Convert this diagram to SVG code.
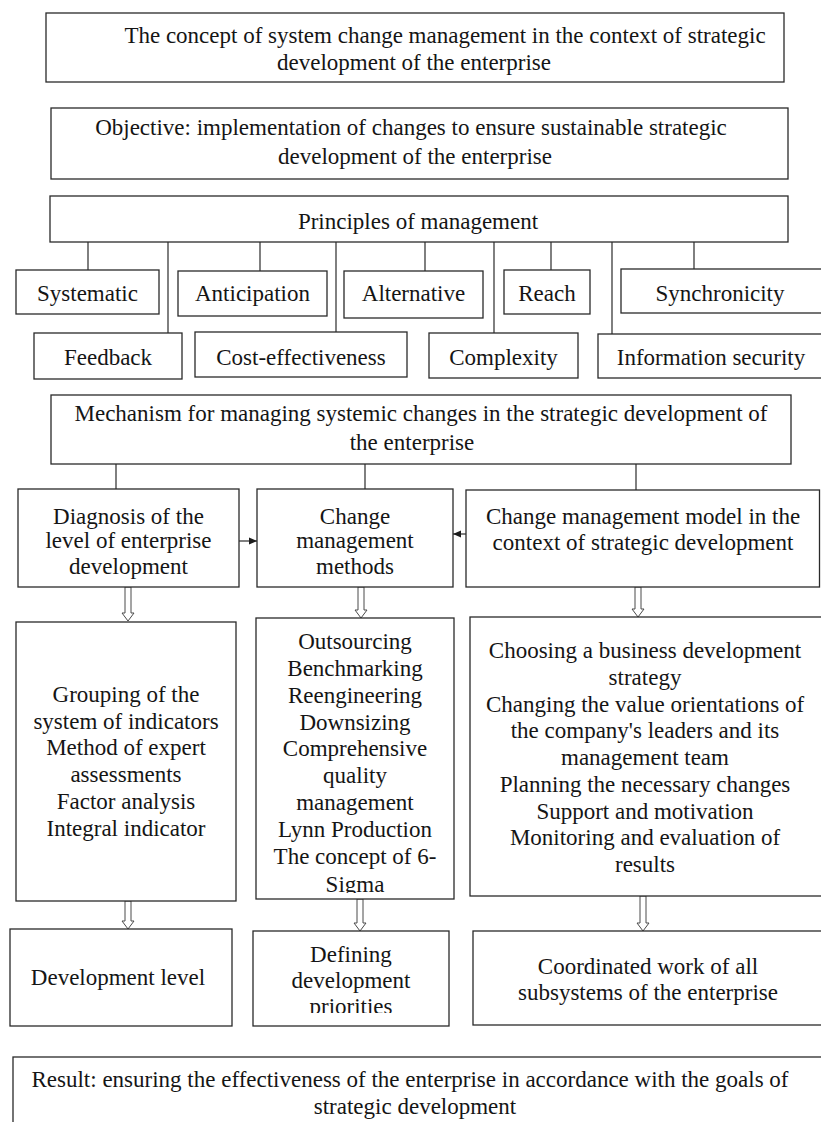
<svg xmlns="http://www.w3.org/2000/svg" width="821" height="1122" viewBox="0 0 821 1122">
  <style>
    .box { fill: #ffffff; stroke: #2a2a2a; stroke-width: 1.3; }
    .t { font-family: "Liberation Serif", "Times New Roman", serif; font-size: 23px; fill: #151515; text-anchor: middle; }
    .ln { stroke: #2a2a2a; stroke-width: 1.2; fill: none; }
    .hollow { fill: #ffffff; stroke: #4a4a4a; stroke-width: 1; }
  </style>
  <defs>
    <marker id="tip" markerUnits="userSpaceOnUse" markerWidth="9" markerHeight="8" refX="8" refY="4" orient="auto">
      <path d="M0,0.5 L8,4 L0,7.5 z" fill="#1c1c1c"/>
    </marker>
    <clipPath id="clipMethods"><rect x="257" y="619" width="196" height="274"/></clipPath>
    <clipPath id="clipDefining"><rect x="254" y="932" width="194" height="81"/></clipPath>
  </defs>
  <rect width="821" height="1122" fill="#ffffff"/>

  <!-- connectors -->
  <g id="connectors">
    <!-- principles to individual principles -->
    <line class="ln" x1="88" y1="242" x2="88" y2="270"/>
    <line class="ln" x1="168" y1="242" x2="168" y2="333"/>
    <line class="ln" x1="260" y1="242" x2="260" y2="271"/>
    <line class="ln" x1="336" y1="242" x2="336" y2="332"/>
    <line class="ln" x1="425" y1="242" x2="425" y2="271"/>
    <line class="ln" x1="494" y1="242" x2="494" y2="333"/>
    <line class="ln" x1="551" y1="242" x2="551" y2="270"/>
    <line class="ln" x1="612" y1="242" x2="612" y2="334"/>
    <line class="ln" x1="694" y1="242" x2="694" y2="269"/>
    <!-- mechanism to its three parts -->
    <line class="ln" x1="116" y1="464" x2="116" y2="489"/>
    <line class="ln" x1="365" y1="464" x2="365" y2="489"/>
    <line class="ln" x1="636" y1="464" x2="636" y2="490"/>
    <!-- side arrows into methods -->
    <line class="ln" x1="239" y1="541" x2="257" y2="541" marker-end="url(#tip)"/>
    <line class="ln" x1="466" y1="534" x2="453" y2="534" marker-end="url(#tip)"/>
    <!-- hollow down arrows -->
    <path class="hollow" d="M125,587 L131,587 L131,613 L134,613 L128,621 L122,613 L125,613 Z"/>
    <path class="hollow" d="M358,587 L364,587 L364,610 L367,610 L361,618 L355,610 L358,610 Z"/>
    <path class="hollow" d="M635,587 L641,587 L641,609 L644,609 L638,617 L632,609 L635,609 Z"/>
    <path class="hollow" d="M125,901 L131,901 L131,921 L134,921 L128,929 L122,921 L125,921 Z"/>
    <path class="hollow" d="M357,899 L363,899 L363,923 L366,923 L360,931 L354,923 L357,923 Z"/>
    <path class="hollow" d="M640,896 L646,896 L646,923 L649,923 L643,931 L637,923 L640,923 Z"/>
  </g>

  <g id="concept">
    <rect class="box" x="46" y="13" width="738" height="69"/>
    <text class="t" x="445" y="43">The concept of system change management in the context of strategic</text>
    <text class="t" x="414" y="70">development of the enterprise</text>
  </g>

  <g id="objective">
    <rect class="box" x="51" y="108" width="737" height="71"/>
    <text class="t" x="411" y="135">Objective: implementation of changes to ensure sustainable strategic</text>
    <text class="t" x="415" y="164">development of the enterprise</text>
  </g>

  <g id="principles">
    <rect class="box" x="50" y="196" width="738" height="46"/>
    <text class="t" x="418" y="229">Principles of management</text>
  </g>

  <g id="p-systematic">
    <rect class="box" x="16" y="270" width="143" height="44"/>
    <text class="t" x="87.5" y="301">Systematic</text>
  </g>
  <g id="p-anticipation">
    <rect class="box" x="178" y="271" width="149" height="45"/>
    <text class="t" x="252.5" y="301">Anticipation</text>
  </g>
  <g id="p-alternative">
    <rect class="box" x="344" y="271" width="139" height="47"/>
    <text class="t" x="413.5" y="301">Alternative</text>
  </g>
  <g id="p-reach">
    <rect class="box" x="504" y="270" width="86" height="44"/>
    <text class="t" x="547" y="301">Reach</text>
  </g>
  <g id="p-synchronicity">
    <rect class="box" x="621" y="269" width="215" height="44"/>
    <text class="t" x="720" y="301">Synchronicity</text>
  </g>
  <g id="p-feedback">
    <rect class="box" x="34" y="333" width="148" height="46"/>
    <text class="t" x="108" y="365">Feedback</text>
  </g>
  <g id="p-cost">
    <rect class="box" x="195" y="332" width="212" height="45"/>
    <text class="t" x="301" y="365">Cost-effectiveness</text>
  </g>
  <g id="p-complexity">
    <rect class="box" x="429" y="333" width="149" height="45"/>
    <text class="t" x="503.5" y="365">Complexity</text>
  </g>
  <g id="p-infosec">
    <rect class="box" x="598" y="334" width="235" height="44"/>
    <text class="t" x="711" y="365">Information security</text>
  </g>

  <g id="mechanism">
    <rect class="box" x="51" y="395" width="740" height="69"/>
    <text class="t" x="421" y="421">Mechanism for managing systemic changes in the strategic development of</text>
    <text class="t" x="412" y="450">the enterprise</text>
  </g>

  <g id="diagnosis">
    <rect class="box" x="18" y="489" width="221" height="98"/>
    <text class="t" x="128.5" y="524">Diagnosis of the</text>
    <text class="t" x="128.5" y="548">level of enterprise</text>
    <text class="t" x="128.5" y="574">development</text>
  </g>

  <g id="methods">
    <rect class="box" x="257" y="489" width="196" height="98"/>
    <text class="t" x="355" y="524">Change</text>
    <text class="t" x="355" y="548">management</text>
    <text class="t" x="355" y="574">methods</text>
  </g>

  <g id="model">
    <rect class="box" x="466" y="490" width="353.5" height="97"/>
    <text class="t" x="643" y="524">Change management model in the</text>
    <text class="t" x="643" y="550">context of strategic development</text>
  </g>

  <g id="diagnosis-tools">
    <rect class="box" x="16" y="622" width="220" height="279"/>
    <text class="t" x="126" y="702">Grouping of the</text>
    <text class="t" x="126" y="729">system of indicators</text>
    <text class="t" x="126" y="755">Method of expert</text>
    <text class="t" x="126" y="782">assessments</text>
    <text class="t" x="126" y="809">Factor analysis</text>
    <text class="t" x="126" y="836">Integral indicator</text>
  </g>

  <g id="methods-list">
    <rect class="box" x="256" y="618" width="198" height="281"/>
    <g clip-path="url(#clipMethods)">
      <text class="t" x="355" y="649">Outsourcing</text>
      <text class="t" x="355" y="676">Benchmarking</text>
      <text class="t" x="355" y="703">Reengineering</text>
      <text class="t" x="355" y="730">Downsizing</text>
      <text class="t" x="355" y="756">Comprehensive</text>
      <text class="t" x="355" y="783">quality</text>
      <text class="t" x="355" y="810">management</text>
      <text class="t" x="355" y="837">Lynn Production</text>
      <text class="t" x="355" y="864">The concept of 6-</text>
      <text class="t" x="355" y="892">Sigma</text>
    </g>
  </g>

  <g id="model-steps">
    <rect class="box" x="470" y="617" width="360" height="279"/>
    <text class="t" x="645" y="658">Choosing a business development</text>
    <text class="t" x="645" y="685">strategy</text>
    <text class="t" x="645" y="712">Changing the value orientations of</text>
    <text class="t" x="645" y="738">the company's leaders and its</text>
    <text class="t" x="645" y="765">management team</text>
    <text class="t" x="645" y="792">Planning the necessary changes</text>
    <text class="t" x="645" y="819">Support and motivation</text>
    <text class="t" x="645" y="845">Monitoring and evaluation of</text>
    <text class="t" x="645" y="872">results</text>
  </g>

  <g id="development-level">
    <rect class="box" x="10" y="929" width="222" height="97"/>
    <text class="t" x="118" y="985">Development level</text>
  </g>

  <g id="priorities">
    <rect class="box" x="253" y="931" width="196" height="95"/>
    <g clip-path="url(#clipDefining)">
      <text class="t" x="351" y="962">Defining</text>
      <text class="t" x="351" y="988">development</text>
      <text class="t" x="351" y="1014">priorities</text>
    </g>
  </g>

  <g id="coordinated">
    <rect class="box" x="473" y="931" width="360" height="94"/>
    <text class="t" x="648" y="974">Coordinated work of all</text>
    <text class="t" x="648" y="1000">subsystems of the enterprise</text>
  </g>

  <g id="result">
    <rect class="box" x="13" y="1057" width="822" height="100"/>
    <text class="t" x="410" y="1087">Result: ensuring the effectiveness of the enterprise in accordance with the goals of</text>
    <text class="t" x="415" y="1114">strategic development</text>
  </g>
</svg>
